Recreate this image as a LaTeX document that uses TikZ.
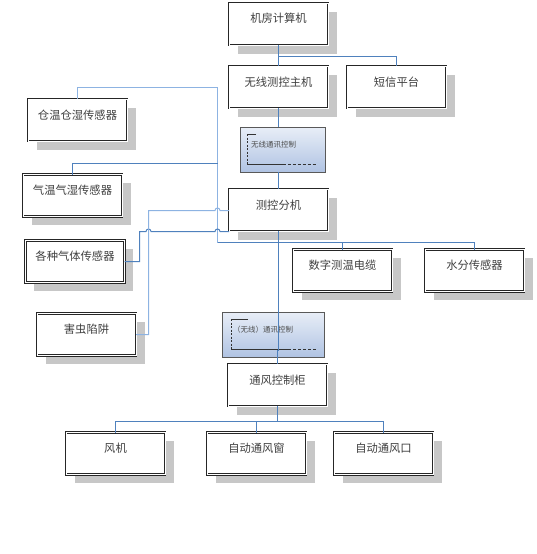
\documentclass[tikz,border=0pt]{standalone}
\usepackage{fontspec}
\newfontfamily\cjk{Noto Sans CJK SC}
\usetikzlibrary{positioning, shadows}

\definecolor{linkdark}{HTML}{4F81BD}
\definecolor{linklight}{HTML}{8DB3E2}
\definecolor{modtop}{HTML}{E8EEF7}
\definecolor{modbot}{HTML}{B0C3E3}
\definecolor{txtgray}{HTML}{404040}

\begin{document}
\begin{tikzpicture}[
  x=1pt, y=-1pt,
  box/.style={draw=black!85, double=white, double distance=0.9pt, line width=0.7pt, fill=white,
    outer sep=0pt, minimum width=99pt, inner xsep=0pt, inner ysep=3pt, text height=17pt, text depth=19pt,
    font=\cjk\fontsize{11.3}{13}\selectfont, text=txtgray,
    drop shadow={shadow xshift=8.5pt, shadow yshift=-8.5pt, fill=black!22, opacity=1}},
  modbox/.style={draw=black!65, line width=0.6pt, top color=modtop, bottom color=modbot,
    outer sep=0pt, inner xsep=11pt, inner ysep=0pt, text height=20pt, text depth=25pt, align=left,
    font=\cjk\fontsize{7.5}{9}\selectfont, text=black!70},
  bracket/.style={black!80, line width=0.8pt},
  link/.style={linkdark, line width=1pt},
  linkpale/.style={linklight, line width=1pt}
]
\useasboundingbox (0,0) rectangle (537,554);

% host side
\node[box] (jifang) at (278.5,24) {机房计算机};
\node[box, below=21pt of jifang] (zhuji) {无线测控主机};
\node[box, right=19pt of zhuji] (duanxin) {短信平台};
\node[modbox, text width=63pt] (wx1) at (282.5,149.5) {无线通讯控制};
\node[box] (fenji) at (278.5,210) {测控分机};

% sensors
\node[box] (cangwen) at (77.5,120) {仓温仓湿传感器};
\node[box] (qiwen) at (72.5,195.5) {气温气湿传感器};
\node[box] (qiti) at (75,261.5) {各种气体传感器};
\node[box] (haichong) at (86.5,334.5) {害虫陷阱};
\node[box] (cewen) at (342.5,270.5) {数字测温电缆};
\node[box, right=33pt of cewen] (shuifen) {水分传感器};

% ventilation
\node[modbox, text width=80pt] (wx2) at (273,334.5) {（无线）通讯控制};
\node[box] (tongfeng) at (277.5,385) {通风控制柜};
\node[box] (chuang) at (256.5,453.5) {自动通风窗};
\node[box, left=42pt of chuang] (fengji) {风机};
\node[box, right=28pt of chuang] (kou) {自动通风口};

% brackets inside the wireless modules
\draw[bracket] ([xshift=16pt,yshift=-7pt]wx1.north west) -- ([xshift=7pt,yshift=-7pt]wx1.north west);
\draw[bracket, dash pattern=on 2pt off 1.5pt] ([xshift=7pt,yshift=-7pt]wx1.north west) -- ([xshift=7pt,yshift=8pt]wx1.south west);
\draw[bracket] ([xshift=7pt,yshift=8pt]wx1.south west) -- ([yshift=8pt]wx1.south);
\draw[bracket, dash pattern=on 3pt off 2pt] ([yshift=8pt]wx1.south) -- ([xshift=-8pt,yshift=8pt]wx1.south east);
\draw[bracket] ([xshift=26pt,yshift=-7pt]wx2.north west) -- ([xshift=9pt,yshift=-7pt]wx2.north west);
\draw[bracket, dash pattern=on 2pt off 1.5pt] ([xshift=9pt,yshift=-7pt]wx2.north west) -- ([xshift=9pt,yshift=8pt]wx2.south west);
\draw[bracket] ([xshift=9pt,yshift=8pt]wx2.south west) -- ([xshift=15pt,yshift=8pt]wx2.south);
\draw[bracket, dash pattern=on 3pt off 2pt] ([xshift=15pt,yshift=8pt]wx2.south) -- ([xshift=-7pt,yshift=8pt]wx2.south east);

% connectors
\coordinate (smsjoin) at (278.5,56.5);
\coordinate (trunk) at (217.5,242.5);
\coordinate (split) at (277.5,421.5);

\draw[link] (jifang.south) -- (zhuji.north);
\draw[link] (smsjoin) -| (duanxin.north);
\draw[link] (zhuji.south) -- (zhuji.south |- wx1.north);
\draw[link] (fenji.north |- wx1.south) -- (fenji.north);

\draw[linkpale] (cangwen.north) |- (217.5,87.5) -- (trunk);
\draw[link] (trunk) -| (shuifen.north);
\draw[link] (cewen.north |- trunk) -- (cewen.north);
\draw[link] (qiwen.north) |- (217.5,163.5);
\draw[link] (qiti.east) -| (139.5,231.5) -- (146,231.5) arc[start angle=180, end angle=0, radius=2.5pt]
  -- (215,231.5) arc[start angle=180, end angle=0, radius=2.5pt] -- (fenji.west |- 0,231.5);
\draw[linkpale] (haichong.east) -| (148.5,210.5) -- (215,210.5) arc[start angle=180, end angle=0, radius=2.5pt]
  -- (fenji.west |- 0,210.5);

\draw[link] (fenji.south) -- (fenji.south |- 0,350.5) -| (tongfeng.north);
\draw[link] (tongfeng.south) -- (split);
\draw[link] (fengji.north) |- (split) -| (kou.north);
\draw[link] (chuang.north) -- (chuang.north |- split);
\end{tikzpicture}
\end{document}
